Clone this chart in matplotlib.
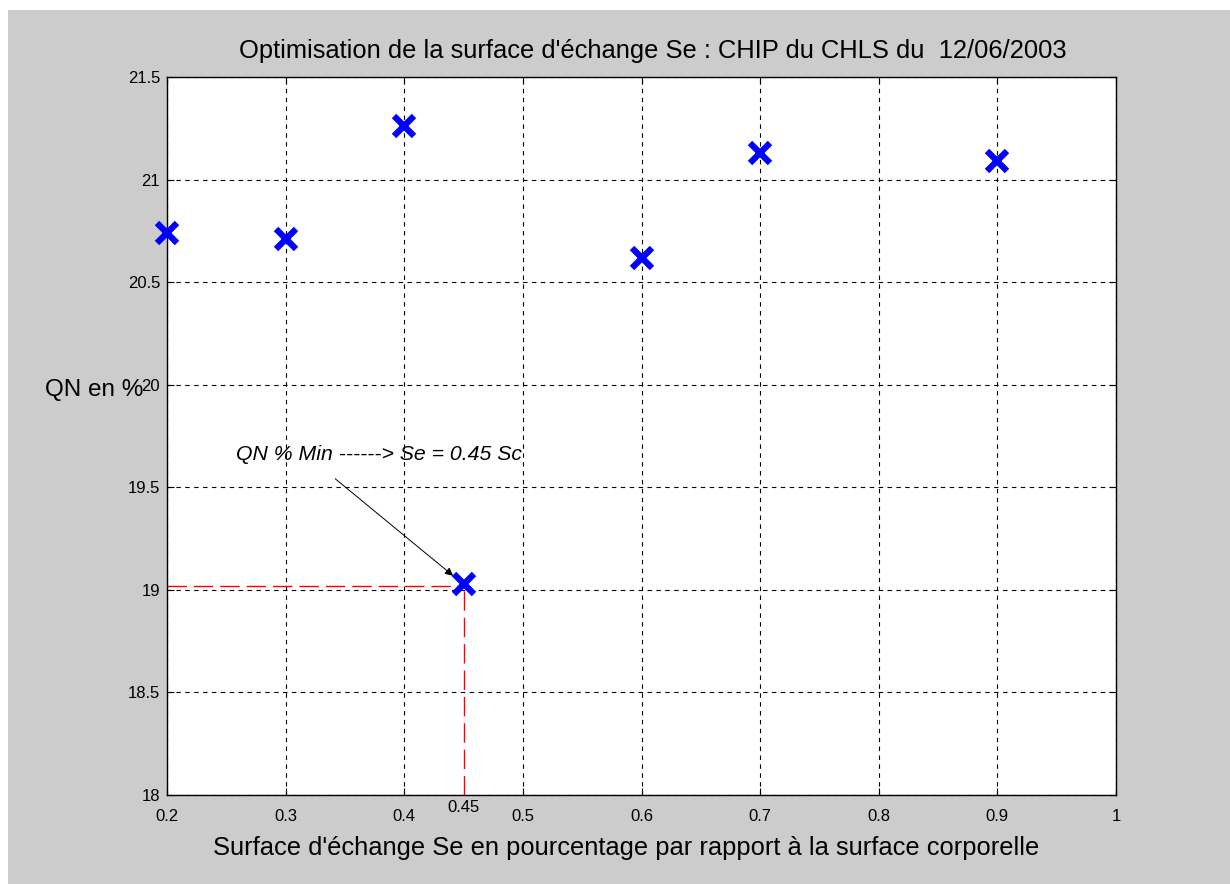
import matplotlib.pyplot as plt
from matplotlib.patches import Rectangle

# surface ratio Se/Sc and QN %
se = [0.2, 0.3, 0.4, 0.45, 0.6, 0.7, 0.9]
qn = [20.74, 20.71, 21.26, 19.03, 20.62, 21.13, 21.09]
se_min = 0.45
qn_min = 19.02
xticks = [0.2, 0.3, 0.4, 0.5, 0.6, 0.7, 0.8, 0.9, 1]
xticklabels = ['0.2', '0.3', '0.4', '0.5', '0.6', '0.7', '0.8', '0.9', '1']
yticks = [18, 18.5, 19, 19.5, 20, 20.5, 21, 21.5]
yticklabels = ['18', '18.5', '19', '19.5', '20', '20.5', '21', '21.5']

plt.rcParams['font.family'] = ['Liberation Sans', 'DejaVu Sans']

fig = plt.figure(figsize=(12.3, 8.84), dpi=100, facecolor='white')
# grey matlab-like background
fig.patches.append(Rectangle((8 / 1230, 0), 1, 1 - 10 / 884, transform=fig.transFigure,
                             facecolor='#cccccc', edgecolor='none', zorder=-10))

ax = fig.add_axes([0.1358, 0.1007, 0.7715, 0.8122])
ax.set_facecolor('white')

# red guide lines to the minimum
ax.plot([0.2, se_min], [qn_min, qn_min], color='red', lw=1, linestyle=(0, (14, 5)), zorder=2)
ax.plot([se_min, se_min], [18, qn_min], color='red', lw=1, linestyle=(0, (14, 5)), zorder=2)

ax.plot(se, qn, linestyle='none', marker='x', color='blue', markersize=15,
        markeredgewidth=4.5, zorder=3, clip_on=False)

ax.set_xlim(0.2, 1)
ax.set_ylim(18, 21.5)
ax.set_xticks(xticks)
ax.set_xticklabels(xticklabels)
ax.set_yticks(yticks)
ax.set_yticklabels(yticklabels)
ax.grid(True, color='black', linestyle=(0, (4, 4)), linewidth=0.8)
ax.tick_params(direction='in', length=5, width=0.8, top=True, right=True, labelsize=12,
               colors='black')
ax.tick_params(axis='x', pad=10)
ax.tick_params(axis='y', pad=5)
for s in ax.spines.values():
    s.set_linewidth(1)

ax.text(se_min, 17.975, '0.45', ha='center', va='top', fontsize=12, clip_on=False)

# annotation
ax.annotate('', xy=(0.443, 19.06), xytext=(0.34, 19.55),
            arrowprops=dict(arrowstyle='-|>', color='black', lw=0.7, mutation_scale=12))
ax.text(0.258, 19.66, 'QN % Min ------> Se = 0.45 Sc', fontsize=15.3, style='italic',
        ha='left', va='center')

ax.set_title("Optimisation de la surface d'échange Se : CHIP du CHLS du  12/06/2003",
             fontsize=18.4, pad=14, x=0.5116)
ax.set_xlabel("Surface d'échange Se en pourcentage par rapport à la surface corporelle",
              fontsize=18.4, labelpad=8.5, x=0.484)
ax.set_ylabel('QN en %', fontsize=17.5, rotation=0, ha='right', va='center')
ax.yaxis.set_label_coords(-0.025, 0.564)

fig.savefig('out.png', dpi=100, facecolor=fig.get_facecolor())
